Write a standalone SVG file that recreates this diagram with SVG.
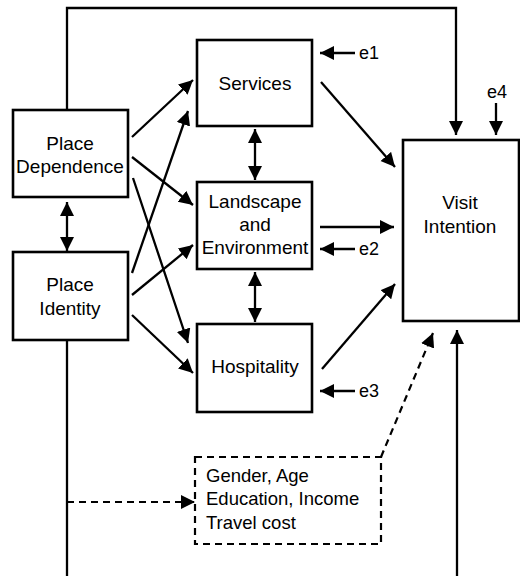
<svg xmlns="http://www.w3.org/2000/svg" width="520" height="576" viewBox="0 0 520 576">
<defs>
<style>
.box{fill:#fff;stroke:#000;stroke-width:2.6}
.dbox{fill:#fff;stroke:#000;stroke-width:2.2;stroke-dasharray:7,5}
.ln{fill:none;stroke:#000;stroke-width:2.3}
.dl{fill:none;stroke:#000;stroke-width:2.2;stroke-dasharray:7,5}
.t{font-family:"Liberation Sans",Arial,sans-serif;font-size:19px;fill:#000;text-anchor:middle}
.s{font-family:"Liberation Sans",Arial,sans-serif;font-size:18.5px;fill:#000}
.e{font-family:"Liberation Sans",Arial,sans-serif;font-size:18px;fill:#000}
</style>
<marker id="ah" markerUnits="userSpaceOnUse" markerWidth="16" markerHeight="16" refX="14" refY="7" orient="auto-start-reverse" viewBox="0 0 16 16">
<path d="M0,0 L14,7 L0,14 z" fill="#000"/>
</marker>
</defs>
<g id="connectors">
<path class="ln" d="M67,110 V8 H456 V135" marker-end="url(#ah)"/>
<path class="ln" d="M67,340 V576"/>
<path class="ln" d="M457,576 V330" marker-end="url(#ah)"/>
<path class="dl" d="M67,502 H195" marker-end="url(#ah)"/>
<path class="dl" d="M381,457 L433,333" marker-end="url(#ah)"/>
<line class="ln" x1="132" y1="137" x2="193" y2="80" marker-end="url(#ah)"/>
<line class="ln" x1="132" y1="157" x2="193" y2="205" marker-end="url(#ah)"/>
<line class="ln" x1="133" y1="178" x2="188" y2="343" marker-end="url(#ah)"/>
<line class="ln" x1="132" y1="273" x2="188" y2="111" marker-end="url(#ah)"/>
<line class="ln" x1="132" y1="295" x2="193" y2="245" marker-end="url(#ah)"/>
<line class="ln" x1="132" y1="315" x2="193" y2="373" marker-end="url(#ah)"/>
<line class="ln" x1="67" y1="202" x2="67" y2="251" marker-start="url(#ah)" marker-end="url(#ah)"/>
<line class="ln" x1="255" y1="129" x2="255" y2="180" marker-start="url(#ah)" marker-end="url(#ah)"/>
<line class="ln" x1="255" y1="272" x2="255" y2="322" marker-start="url(#ah)" marker-end="url(#ah)"/>
<line class="ln" x1="321" y1="82" x2="395" y2="167" marker-end="url(#ah)"/>
<line class="ln" x1="320" y1="227" x2="394" y2="227" marker-end="url(#ah)"/>
<line class="ln" x1="322" y1="369" x2="395" y2="284" marker-end="url(#ah)"/>
<line class="ln" x1="355" y1="53" x2="320" y2="53" marker-end="url(#ah)"/>
<line class="ln" x1="355" y1="249" x2="320" y2="249" marker-end="url(#ah)"/>
<line class="ln" x1="355" y1="391" x2="320" y2="391" marker-end="url(#ah)"/>
<line class="ln" x1="496" y1="103" x2="496" y2="135" marker-end="url(#ah)"/>
<text class="e" x="359" y="59">e1</text>
<text class="e" x="359" y="255">e2</text>
<text class="e" x="359" y="397">e3</text>
<text class="e" x="487" y="98">e4</text>
</g>
<g id="place-dependence">
<rect class="box" x="13" y="110" width="115" height="87"/>
<text class="t" x="70" y="150">Place</text>
<text class="t" x="70" y="173">Dependence</text>
</g>
<g id="place-identity">
<rect class="box" x="13" y="252" width="115" height="88"/>
<text class="t" x="70" y="291">Place</text>
<text class="t" x="70" y="315">Identity</text>
</g>
<g id="services">
<rect class="box" x="197" y="40" width="115" height="86"/>
<text class="t" x="255" y="90">Services</text>
</g>
<g id="landscape">
<rect class="box" x="197" y="182" width="115" height="87"/>
<text class="t" x="255" y="208">Landscape</text>
<text class="t" x="255" y="231">and</text>
<text class="t" x="255" y="254">Environment</text>
</g>
<g id="hospitality">
<rect class="box" x="197" y="324" width="115" height="88"/>
<text class="t" x="255" y="373">Hospitality</text>
</g>
<g id="visit-intention">
<rect class="box" x="403" y="140" width="116" height="181"/>
<text class="t" x="460" y="209">Visit</text>
<text class="t" x="460" y="233">Intention</text>
</g>
<g id="controls">
<rect class="dbox" x="195" y="457" width="186" height="87"/>
<text class="s" x="206" y="482">Gender, Age</text>
<text class="s" x="206" y="505">Education, Income</text>
<text class="s" x="206" y="529">Travel cost</text>
</g>
</svg>
